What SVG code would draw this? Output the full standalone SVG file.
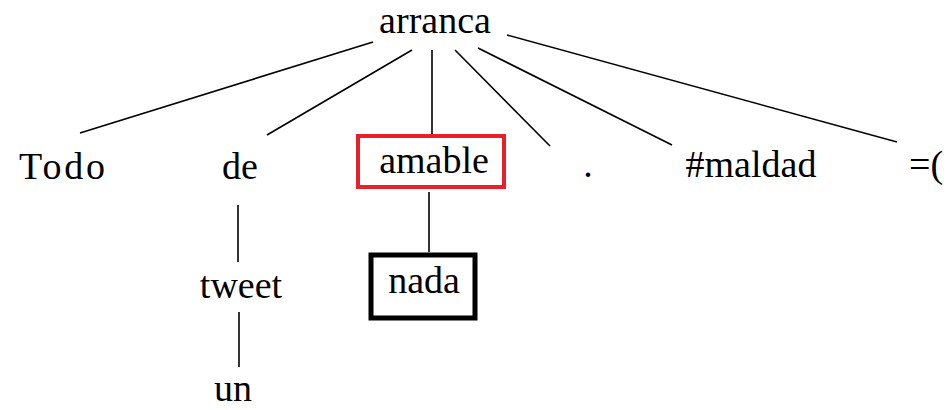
<svg xmlns="http://www.w3.org/2000/svg" width="950" height="410" viewBox="0 0 950 410">
<style>
text{font-family:"Liberation Serif","Times New Roman",serif;font-size:38px;fill:#000;text-anchor:middle}
.e{stroke:#000;stroke-width:1.6;fill:none}
</style>
<rect width="950" height="410" fill="#fff"/>
<g id="connectors">
<line class="e" x1="373" y1="42" x2="80" y2="133"/>
<line class="e" x1="412" y1="50" x2="267" y2="135"/>
<line class="e" x1="432" y1="50" x2="432" y2="135"/>
<line class="e" x1="455" y1="50" x2="550" y2="146"/>
<line class="e" x1="478" y1="48" x2="672" y2="145"/>
<line class="e" x1="507" y1="35" x2="897" y2="142"/>
<line class="e" x1="429" y1="192" x2="429" y2="252"/>
<line class="e" x1="238" y1="205" x2="238" y2="262"/>
<line class="e" x1="239" y1="312" x2="239" y2="367"/>
</g>
<g id="arranca"><text x="435" y="33">arranca</text></g>
<g id="todo"><text x="62" y="179" textLength="86">Todo</text></g>
<g id="de"><text x="240" y="179">de</text></g>
<g id="amable"><rect x="358" y="136" width="146" height="51" fill="none" stroke="#e8202a" stroke-width="4"/><text x="434" y="173">amable</text></g>
<g id="punto"><text x="588" y="177">.</text></g>
<g id="maldad"><text x="751" y="177">#maldad</text></g>
<g id="cara"><text x="926" y="177">=(</text></g>
<g id="nada"><rect x="371" y="255" width="104" height="63" fill="none" stroke="#000" stroke-width="5"/><text x="424" y="293">nada</text></g>
<g id="tweet"><text x="241" y="298">tweet</text></g>
<g id="un"><text x="233" y="401">un</text></g>
</svg>
